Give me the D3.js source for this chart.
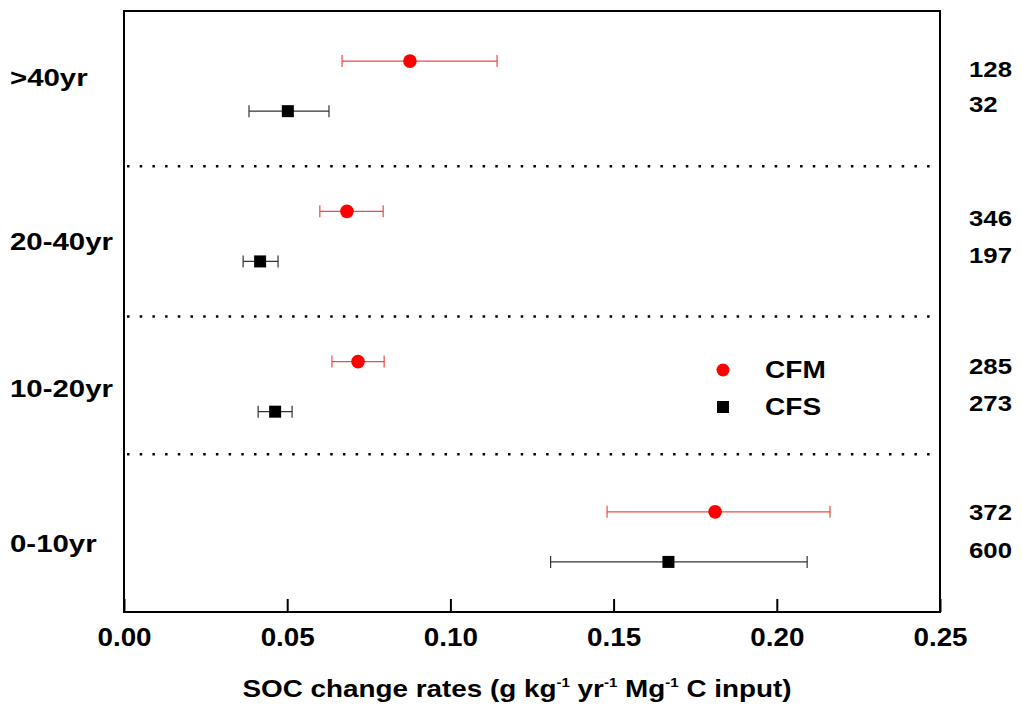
<!DOCTYPE html>
<html>
<head>
<meta charset="utf-8">
<script src="https://cdn.jsdelivr.net/npm/d3@7"></script>
<style>
body { margin: 0; background: #fff; }
text { font-family: "Liberation Sans", Arial, sans-serif; font-weight: bold; }
</style>
</head>
<body>
<script>
// SOC change rate by duration group

var groups = ["0-10yr", "10-20yr", "20-40yr", ">40yr"];
var series = ["CFS", "CFM"];

// mean, lower, upper (bottom group first)
var cfmMean = [0.1811, 0.0717, 0.0683, 0.0876];
var cfmLow  = [0.1480, 0.0637, 0.0600, 0.0668];
var cfmHigh = [0.2163, 0.0797, 0.0794, 0.1143];
var cfsMean = [0.1668, 0.0463, 0.0417, 0.0502];
var cfsLow  = [0.1307, 0.0411, 0.0365, 0.0383];
var cfsHigh = [0.2093, 0.0515, 0.0472, 0.0628];

var cfmN = [372, 285, 346, 128];
var cfsN = [600, 273, 197, 32];

var xTicks = [0, 0.05, 0.10, 0.15, 0.20, 0.25];
var separators = [3.15, 5.9, 8.9];

// label rows (in y units)
var groupLabelPos = [1.2, 4.29, 7.23, 10.5];
var cfmNPos = [1.84, 4.75, 7.71, 10.68];
var cfsNPos = [1.08, 4.01, 6.97, 9.98];

var width = 1022, height = 715;
var svg = d3.select("body").append("svg")
    .attr("width", width)
    .attr("height", height);

var pLeft = 124, pRight = 940, pTop = 11, pBottom = 612;

var x = d3.scaleLinear().domain([0, 0.25]).range([pLeft, pRight]);
var y = d3.scaleLinear().domain([0, 12]).range([pBottom, pTop]);

// rows: CFS at 3g+1, CFM at 3g+2
var rows = [];
groups.forEach(function(g, i) {
  rows.push({s: "CFS", g: i, pos: 3 * i + 1, m: cfsMean[i], lo: cfsLow[i], hi: cfsHigh[i], n: cfsN[i], np: cfsNPos[i]});
  rows.push({s: "CFM", g: i, pos: 3 * i + 2, m: cfmMean[i], lo: cfmLow[i], hi: cfmHigh[i], n: cfmN[i], np: cfmNPos[i]});
});

// text stretched a bit sideways, like the original
function place(px, py, sx) {
  return "translate(" + px + "," + py + ") scale(" + sx + ",1)";
}

// dotted separators
svg.selectAll("line.sep").data(separators).enter().append("line")
    .attr("class", "sep")
    .attr("x1", pLeft + 3)
    .attr("x2", pRight - 2)
    .attr("y1", function(d) { return y(d); })
    .attr("y2", function(d) { return y(d); })
    .attr("stroke", "#000")
    .attr("stroke-width", 2.5)
    .attr("stroke-dasharray", "2.5 10.2");

// x axis with inward ticks
var xAxis = d3.axisBottom(x)
    .tickValues(xTicks)
    .tickSizeInner(-13)
    .tickSizeOuter(0)
    .tickPadding(16)
    .tickFormat(d3.format(".2f"));

var ax = svg.append("g")
    .attr("transform", "translate(0," + pBottom + ")")
    .call(xAxis);
ax.select(".domain").remove();
ax.selectAll(".tick line").attr("stroke", "#000").attr("stroke-width", 2);
ax.selectAll(".tick text")
    .style("font-size", "26px")
    .style("font-weight", "bold")
    .style("font-family", "'Liberation Sans', Arial, sans-serif")
    .attr("transform", "scale(1.07,1)")
    .attr("fill", "#000");

// frame
svg.append("rect")
    .attr("x", pLeft)
    .attr("y", pTop)
    .attr("width", pRight - pLeft)
    .attr("height", pBottom - pTop)
    .attr("fill", "none")
    .attr("stroke", "#000")
    .attr("stroke-width", 2);

function barColorOf(s) { return s == "CFM" ? "#f04848" : "#333"; }

// error bars
var eb = svg.selectAll("g.eb").data(rows).enter().append("g").attr("class", "eb");
eb.append("line")
    .attr("x1", function(d) { return x(d.lo); })
    .attr("x2", function(d) { return x(d.hi); })
    .attr("y1", function(d) { return y(d.pos); })
    .attr("y2", function(d) { return y(d.pos); })
    .attr("stroke", function(d) { return barColorOf(d.s); })
    .attr("stroke-width", 1.2);
["lo", "hi"].forEach(function(k) {
  eb.append("line")
      .attr("x1", function(d) { return x(d[k]); })
      .attr("x2", function(d) { return x(d[k]); })
      .attr("y1", function(d) { return y(d.pos) - 6; })
      .attr("y2", function(d) { return y(d.pos) + 6; })
      .attr("stroke", function(d) { return barColorOf(d.s); })
      .attr("stroke-width", 1.2);
});

// markers
svg.selectAll("circle.cfm").data(rows.filter(function(d) { return d.s == "CFM"; }))
  .enter().append("circle")
    .attr("class", "cfm")
    .attr("cx", function(d) { return x(d.m); })
    .attr("cy", function(d) { return y(d.pos); })
    .attr("r", 6.8)
    .attr("fill", "#ff0000");
svg.selectAll("rect.cfs").data(rows.filter(function(d) { return d.s == "CFS"; }))
  .enter().append("rect")
    .attr("class", "cfs")
    .attr("x", function(d) { return x(d.m) - 6; })
    .attr("y", function(d) { return y(d.pos) - 6; })
    .attr("width", 12)
    .attr("height", 12)
    .attr("fill", "#000");

// group labels
svg.selectAll("text.grp").data(groups).enter().append("text")
    .attr("class", "grp")
    .attr("transform", function(d, i) { return place(10, y(groupLabelPos[i]), 1.2); })
    .style("font-size", "24.5px")
    .text(function(d) { return d; });

// n counts on right
svg.selectAll("text.n").data(rows).enter().append("text")
    .attr("class", "n")
    .attr("transform", function(d) { return place(969, y(d.np), 1.12); })
    .style("font-size", "23px")
    .text(function(d) { return d.n; });

// legend
var lg = svg.append("g").attr("transform", "translate(723,370)");
lg.append("circle").attr("cx", 0).attr("cy", 0).attr("r", 6.5).attr("fill", "#ff0000");
lg.append("rect").attr("x", -6).attr("y", 31).attr("width", 12).attr("height", 12).attr("fill", "#000");
lg.append("text").attr("transform", place(42, 8, 1.22)).style("font-size", "23px").text("CFM");
lg.append("text").attr("transform", place(42, 45, 1.22)).style("font-size", "23px").text("CFS");

// axis title
var title = svg.append("text")
    .attr("transform", place(517, 697, 1.16))
    .attr("text-anchor", "middle")
    .style("font-size", "24px");
title.append("tspan").text("SOC change rates (g kg");
title.append("tspan").attr("dy", -10).style("font-size", "13px").text("-1");
title.append("tspan").attr("dy", 10).text(" yr");
title.append("tspan").attr("dy", -10).style("font-size", "13px").text("-1");
title.append("tspan").attr("dy", 10).text(" Mg");
title.append("tspan").attr("dy", -10).style("font-size", "13px").text("-1");
title.append("tspan").attr("dy", 10).text(" C input)");
</script>
</body>
</html>
